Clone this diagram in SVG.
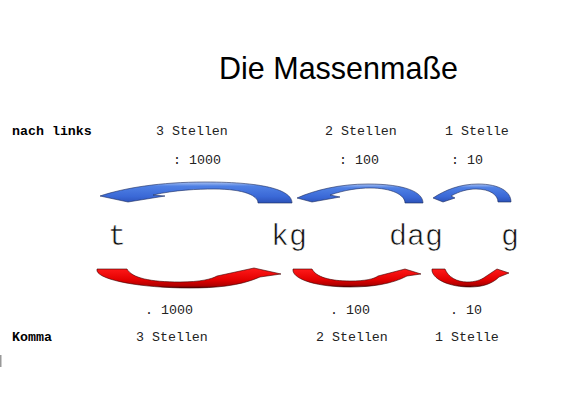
<svg xmlns="http://www.w3.org/2000/svg" width="570" height="400" viewBox="0 0 570 400">
<defs>
<linearGradient id="gBlue" x1="0" y1="0" x2="0" y2="1">
<stop offset="0" stop-color="#a9c1f2"/>
<stop offset="0.2" stop-color="#4f80e4"/>
<stop offset="0.7" stop-color="#3a68d6"/>
<stop offset="1" stop-color="#2c52b8"/>
</linearGradient>
<linearGradient id="gRed" x1="0" y1="0" x2="0" y2="1">
<stop offset="0" stop-color="#ff1a1a"/>
<stop offset="0.6" stop-color="#e20000"/>
<stop offset="0.88" stop-color="#b00000"/>
<stop offset="1" stop-color="#5a0000"/>
</linearGradient>
<style>
.blue{fill:url(#gBlue);stroke:#1c2c5c;stroke-width:0.6;stroke-linejoin:round}
.red{fill:url(#gRed);stroke:#3a0000;stroke-width:0.6;stroke-linejoin:round}
.title{font-family:"Liberation Sans",Arial,sans-serif;font-size:30.5px;fill:#000}
.mono{font-family:"Liberation Mono","Courier New",monospace;font-size:13.3px;fill:#222}
.bold{font-weight:bold;fill:#000}
.unit{font-family:"Liberation Mono","Courier New",monospace;font-size:30px;fill:#111;stroke:#fff;stroke-width:0.6}
</style>
</defs>
<rect width="570" height="400" fill="#fff"/>
<g id="title"><text class="title" x="219" y="79">Die Massenmaße</text></g>
<g id="labels-top">
<text class="mono bold" x="12" y="135">nach links</text>
<text class="mono" x="156" y="135">3 Stellen</text>
<text class="mono" x="325" y="135">2 Stellen</text>
<text class="mono" x="445" y="135">1 Stelle</text>
<text class="mono" x="173" y="164">: 1000</text>
<text class="mono" x="339" y="164">: 100</text>
<text class="mono" x="451" y="164">: 10</text>
</g>
<g id="units">
<text class="unit" x="108" y="245">t</text>
<text class="unit" x="271" y="245">kg</text>
<text class="unit" x="389" y="245">dag</text>
<text class="unit" x="501" y="245">g</text>
</g>
<g id="labels-bottom">
<text class="mono" x="145" y="314">. 1000</text>
<text class="mono" x="330" y="314">. 100</text>
<text class="mono" x="450" y="314">. 10</text>
<text class="mono bold" x="12" y="341">Komma</text>
<text class="mono" x="136" y="341">3 Stellen</text>
<text class="mono" x="316" y="341">2 Stellen</text>
<text class="mono" x="435" y="341">1 Stelle</text>
</g>
<g id="connectors">
<path class="blue" d="M292,203 C292,191 268,182 205,182 C160,182 124,188 100,196 L128,202 L165,196 L153,195 C175,190 198,189 214,189 C245,189 258,196 258,203 Z"/>
<path class="blue" d="M423,203 C423,192 405,184 368,184 C340,184 315,190 297,198 L312,202 L340,197 L330,195 C345,190 358,188 370,188 C392,188 405,195 405,203 Z"/>
<path class="blue" d="M511,202 C511,192 500,184 478,184 C460,184 445,190 433,198 L443,202 L455,198 L451,196 C460,191 468,189 476,189 C490,189 498,195 498,202 Z"/>
<path class="red" d="M97,269 L127,269 C132,278 150,282 180,282 C200,282 212,279 217,276 L254,268 L281,274 L260,277 C240,286 215,288 190,288 C140,288 100,280 97,271 Z"/>
<path class="red" d="M293,269 L312,269 C316,277 330,281 350,281 C365,281 374,279 378,276 L405,269 L421,274 L407,276 C392,284 372,287 350,287 C318,287 295,280 293,271 Z"/>
<path class="red" d="M432,269 L445,269 C448,277 457,282 467,282 C475,282 481,280 485,277 L497,269 L509,273 L499,277 C492,284 482,287 470,287 C450,287 434,280 432,271 Z"/>
</g>
<rect x="0" y="355" width="1.5" height="12" fill="#999"/>
</svg>
